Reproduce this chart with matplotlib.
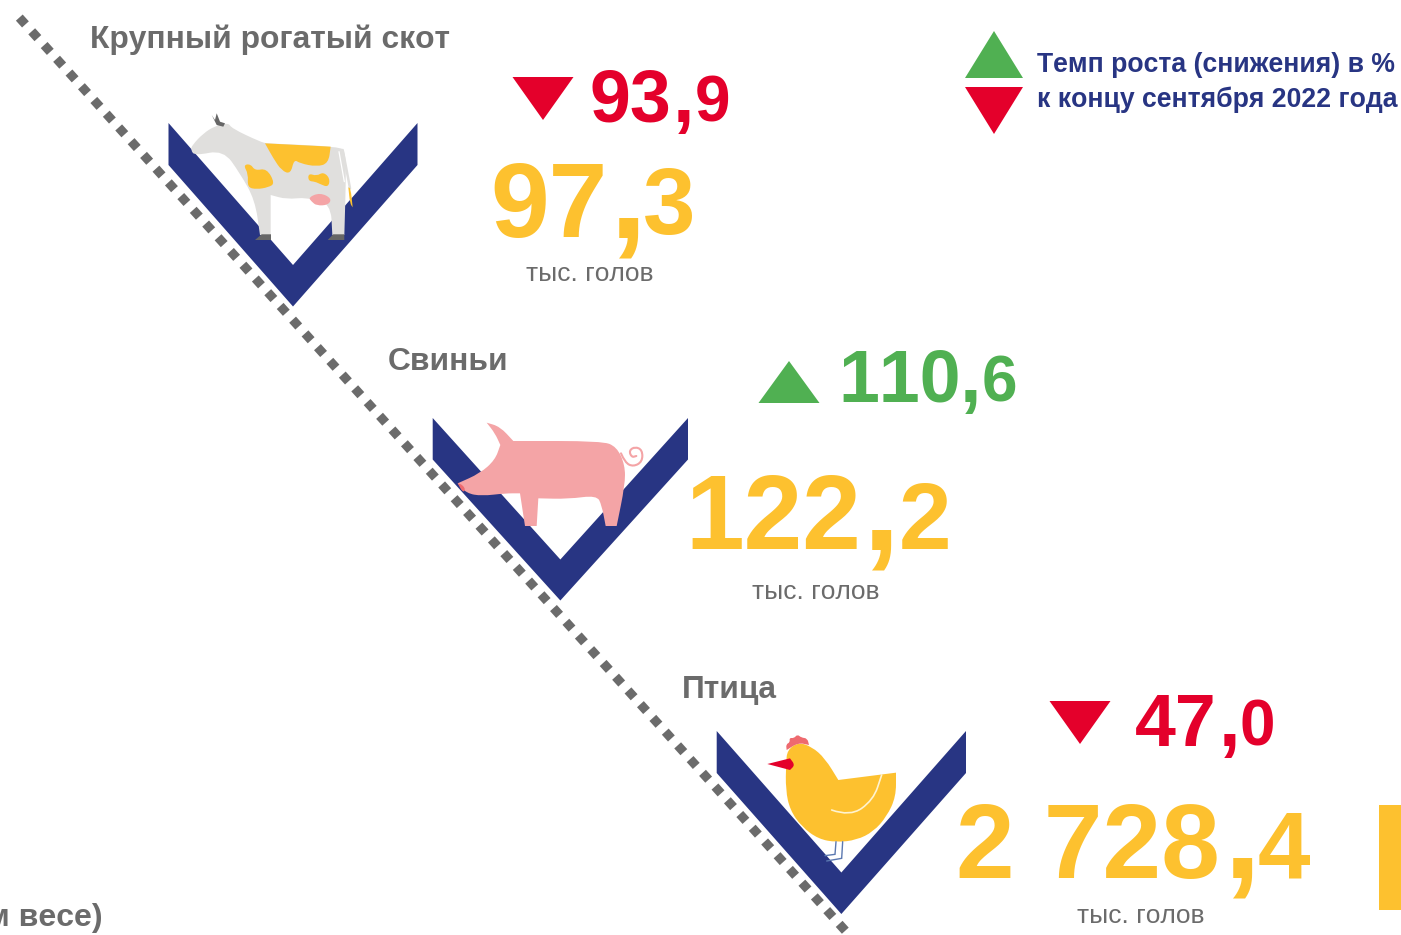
"""
Livestock infographic: head counts and growth rates, drawn in pixel coordinates.
"""

import matplotlib
matplotlib.use("Agg")
import matplotlib.pyplot as plt
from matplotlib.patches import Polygon, Rectangle, PathPatch
from matplotlib.path import Path

plt.rcParams['font.family'] = ['Liberation Sans', 'DejaVu Sans']
plt.rcParams['text.kerning_factor'] = 6

animals = ['Крупный рогатый скот', 'Свиньи', 'Птица']
counts_whole = ['97', '122', '2 728']
counts_dec = ['3', '2', '4']
rates_whole = ['93', '110', '47']
rates_dec = ['9', '6', '0']
unit = 'тыс. голов'
legend_lines = ['Темп роста (снижения) в %', 'к концу сентября 2022 года']
cut_label = 'м весе)'

RED = '#e4002b'
GREEN = '#50b052'
YELLOW = '#fdc12f'
NAVY = '#283583'
GREY = '#6b6b6b'
PINK = '#f4a4a6'
COW = '#e0dfdd'

fig = plt.figure(figsize=(14.01, 9.35), dpi=100)
ax = fig.add_axes([0, 0, 1, 1])
ax.set_xlim(0, 1401)
ax.set_ylim(935, 0)
ax.axis('off')


def curve(pts, origin, closed):
    # quadratic spline through midpoints; a doubled point stays a sharp corner
    p = [(origin[0] + x / 3, origin[1] + y / 3) for x, y in pts]
    mid = lambda a, b: ((a[0] + b[0]) / 2, (a[1] + b[1]) / 2)
    if closed:
        verts = [mid(p[-1], p[0])]
        codes = [Path.MOVETO]
        for i in range(len(p)):
            verts += [p[i], mid(p[i], p[(i + 1) % len(p)])]
            codes += [Path.CURVE3, Path.CURVE3]
        return Path(verts, codes)
    verts = [p[0]]
    codes = [Path.MOVETO]
    for i in range(1, len(p) - 1):
        verts += [p[i], mid(p[i], p[i + 1])]
        codes += [Path.CURVE3, Path.CURVE3]
    verts.append(p[-1])
    codes.append(Path.LINETO)
    return Path(verts, codes)


def shape(pts, origin, color, z=3):
    ax.add_patch(PathPatch(curve(pts, origin, True), fc=color, ec='none', zorder=z))


def stroke(pts, origin, color, lw, z=4):
    ax.add_patch(PathPatch(curve(pts, origin, False), fc='none', ec=color, lw=lw, zorder=z, capstyle='round'))


def chevron(left, right, top, lower, inner, bottom):
    mid = (left + right) / 2
    ax.add_patch(Polygon([(left, top), (mid, inner), (right, top), (right, lower),
                          (mid, bottom), (left, lower)], fc=NAVY, ec='none', zorder=2))


def triangle(x, base, tip, color, half=30.5):
    ax.add_patch(Polygon([(x - half, base), (x + half, base), (x, tip)], fc=color, ec='none', zorder=2))


def number(whole, dec, x, x_comma, x_dec, y, color, sizes, y_dec=None):
    # whole part, comma and decimal are set at three different sizes in the original
    ax.text(x, y, whole, fontsize=sizes[0], color=color, fontweight='bold', va='baseline', ha='left')
    ax.text(x_comma, y, ',', fontsize=sizes[1], color=color, fontweight='bold', va='baseline', ha='center')
    ax.text(x_dec, y if y_dec is None else y_dec, dec, fontsize=sizes[2], color=color,
            fontweight='bold', va='baseline', ha='left')


# dotted diagonal
ax.plot([19.3, 846.5], [17.6, 932], color=GREY, lw=6.6, linestyle=(0, (1.0, 1.02)),
        dash_capstyle='butt', zorder=1)

chevron(168.5, 417.5, 123, 165, 265, 306.5)
chevron(432.7, 688, 418, 459.5, 559.5, 600.5)
chevron(716.7, 966, 731, 773, 872.5, 914)

# cow
cow = (160, 100)
stroke([(548, 150), (558, 200), (570, 265)], cow, COW, 1.8, z=3)
shape([(97, 135), (130, 100), (165, 78), (205, 68), (215, 85), (300, 125), (320, 130), (320, 130), (540, 140),
       (555, 155), (558, 210), (556, 300), (553, 405), (553, 405), (517, 405), (517, 405), (512, 310), (440, 292),
       (380, 298), (332, 285), (332, 285), (332, 405), (332, 405), (300, 405), (300, 405), (285, 300), (240, 220),
       (190, 150), (105, 167), (92, 150)], cow, COW)
shape([(315, 130), (315, 130), (512, 140), (512, 140), (505, 190), (470, 200), (420, 190), (402, 178), (392, 222),
       (365, 212), (340, 175)], cow, YELLOW, 4)
shape([(250, 195), (272, 192), (285, 212), (320, 205), (345, 250), (325, 262), (290, 268), (262, 262), (265, 222)],
      cow, YELLOW, 4)
shape([(445, 220), (470, 228), (490, 216), (510, 235), (505, 262), (480, 252), (465, 245), (445, 243)],
      cow, YELLOW, 4)
shape([(445, 292), (480, 278), (515, 295), (505, 315), (470, 317), (455, 305)], cow, PINK, 4)
ax.add_patch(Polygon([(255, 240), (261.7, 234.3), (271, 234.3), (271, 240)], fc='#666666', ec='none', zorder=4))
ax.add_patch(Polygon([(327.7, 240), (333.3, 234.3), (344.3, 234.3), (344.3, 240)], fc='#666666', ec='none', zorder=4))
ax.add_patch(Polygon([(211.7, 115), (215, 120), (216.7, 113.3), (220, 121.7), (225, 123.3), (223.3, 126.7),
                      (216.7, 125)], fc='#666666', ec='none', zorder=4))
stroke([(537, 155), (545, 200), (553, 245)], cow, 'white', 0.9)
shape([(565, 262), (565, 262), (572, 265), (578, 322), (578, 322), (570, 310)], cow, YELLOW, 4)

# pig
pig = (425, 410)
shape([(185, 38), (185, 38), (225, 50), (265, 93), (265, 93), (530, 93), (575, 110), (600, 165), (600, 225), (575, 348),
       (575, 348), (542, 348), (542, 348), (530, 285), (515, 256), (430, 267), (340, 265), (340, 265), (335, 348),
       (335, 348), (300, 348), (300, 348), (285, 250), (285, 250), (240, 250), (170, 258), (125, 250), (98, 220),
       (98, 220), (165, 190), (210, 150), (226, 105), (226, 105), (210, 70)], pig, PINK)
shape([(98, 220), (98, 220), (112, 224), (122, 240), (113, 247)], pig, '#ee6a6f', 4)
stroke([(588, 130), (600, 158), (625, 170), (652, 155), (652, 120), (630, 110), (612, 122), (620, 142), (634, 138)],
       pig, PINK, 1.5)

# hen
hen = (710, 725)
stroke([(378, 350), (375, 388), (375, 388), (345, 392)], hen, '#5b78b0', 1.0)
stroke([(398, 350), (395, 400), (395, 400), (350, 408)], hen, '#5b78b0', 1.0)
shape([(232, 75), (265, 52), (305, 65), (345, 100), (385, 165), (385, 165), (558, 143), (558, 143), (558, 215),
       (530, 275), (490, 320), (440, 345), (380, 352), (325, 342), (275, 305), (240, 255), (227, 195), (228, 115)],
      hen, YELLOW)
shape([(230, 75), (230, 75), (228, 58), (240, 52), (238, 38), (252, 40), (262, 28), (274, 38), (292, 40), (297, 60),
       (297, 60), (265, 53)], hen, '#ee6a6f')
shape([(172, 117), (172, 117), (240, 100), (240, 100), (255, 120), (240, 135), (240, 135)], hen, RED, 4)
stroke([(365, 255), (420, 275), (490, 225), (515, 150)], hen, '#fff3cf', 1.2)

# arrows
triangle(543, 77, 120, RED)
triangle(789, 403, 361, GREEN)
triangle(1080, 701, 744, RED)
triangle(994, 78, 31, GREEN, 29)
triangle(994, 87, 134, RED, 29)

ax.add_patch(Rectangle((1379, 805), 22, 105, fc=YELLOW, ec='none'))

# text
ax.text(90, 48, animals[0], fontsize=22.9, color=GREY, fontweight='bold', va='baseline')
ax.text(388, 370, animals[1], fontsize=22.9, color=GREY, fontweight='bold', va='baseline')
ax.text(682, 698, animals[2], fontsize=22.9, color=GREY, fontweight='bold', va='baseline')

rate_sizes = (53, 56, 46)
number(rates_whole[0], rates_dec[0], 590, 684, 695, 122, RED, rate_sizes)
number(rates_whole[1], rates_dec[1], 838, 971, 982, 402, GREEN, rate_sizes)
number(rates_whole[2], rates_dec[2], 1135, 1229.5, 1240, 746, RED, rate_sizes)

count_sizes = (76, 96, 68)
number(counts_whole[0], counts_dec[0], 490, 627.5, 643, 237, YELLOW, count_sizes, y_dec=234)
number(counts_whole[1], counts_dec[1], 685, 881, 899, 549, YELLOW, count_sizes)
number(counts_whole[2], counts_dec[2], 956, 1242, 1258, 878, YELLOW, count_sizes)

ax.text(590, 281, unit, fontsize=19, color=GREY, ha='center')
ax.text(816, 599, unit, fontsize=19, color=GREY, ha='center')
ax.text(1141, 923, unit, fontsize=19, color=GREY, ha='center')

ax.text(1037, 72, legend_lines[0], fontsize=19.2, color=NAVY, fontweight='bold', va='baseline')
ax.text(1037, 107, legend_lines[1], fontsize=19.2, color=NAVY, fontweight='bold', va='baseline')

ax.text(103, 926, cut_label, fontsize=23, color=GREY, fontweight='bold', va='baseline', ha='right')

fig.savefig('out.png', dpi=100)
